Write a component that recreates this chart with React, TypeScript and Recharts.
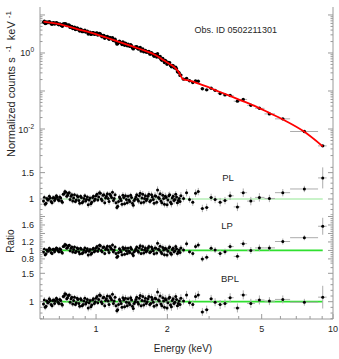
import React from "react";
import {
  ComposedChart,
  Scatter,
  Line,
  XAxis,
  YAxis,
  ErrorBar,
  ReferenceLine,
} from "recharts";

// low-energy bins (dense part of the spectrum), keV
const lowEnergy = [
  0.600, 0.610, 0.620, 0.630, 0.641, 0.652, 0.663, 0.674, 0.686, 0.697,
  0.709, 0.721, 0.733, 0.746, 0.758, 0.771, 0.784, 0.797, 0.811, 0.825,
  0.839, 0.853, 0.867, 0.882, 0.897, 0.912, 0.927, 0.943, 0.959, 0.975,
  0.992, 1.009, 1.026, 1.043, 1.061, 1.079, 1.097, 1.116, 1.135, 1.154,
  1.173, 1.193, 1.214, 1.234, 1.255, 1.276, 1.298, 1.320, 1.343, 1.365,
  1.389, 1.412, 1.436, 1.461, 1.485, 1.511, 1.536, 1.562, 1.589, 1.616,
  1.643, 1.671, 1.700, 1.728, 1.758, 1.788, 1.818, 1.849, 1.880, 1.912,
  1.944, 1.977, 2.011, 2.045, 2.080, 2.115, 2.151, 2.187, 2.224, 2.262,
];
// normalized counts s^-1 keV^-1
const lowCounts = [
  6.43, 5.93, 6.53, 6.31, 6.38, 5.72, 6.22, 5.99, 6.06, 5.53,
  5.65, 5.07, 5.78, 5.76, 5.32, 5.41, 4.94, 4.39, 4.80, 4.23,
  4.37, 3.76, 4.09, 3.67, 3.98, 3.60, 3.15, 3.51, 3.14, 3.40,
  3.15, 3.34, 3.08, 3.17, 2.68, 2.88, 2.63, 2.74, 2.28, 2.46,
  2.53, 2.19, 1.94, 1.74, 2.03, 1.82, 1.94, 1.59, 1.67, 1.71,
  1.49, 1.56, 1.28, 1.41, 1.47, 1.26, 1.39, 1.22, 1.08, 1.17,
  1.05, 1.10, 0.937, 0.964, 0.815, 0.891, 0.951, 0.774, 0.685, 0.713,
  0.560, 0.602, 0.536, 0.555, 0.436, 0.465, 0.404, 0.380, 0.314, 0.257,
];
// data/model below 2.3 keV looks the same for all three models
const lowRatio = [
  0.96, 0.90, 1.01, 0.99, 1.02, 0.93, 1.03, 1.01, 1.04, 0.97,
  1.02, 0.94, 1.10, 1.13, 1.07, 1.12, 1.05, 0.96, 1.08, 0.98,
  1.04, 0.92, 1.03, 0.95, 1.06, 0.99, 0.89, 1.02, 0.94, 1.05,
  1.00, 1.09, 1.04, 1.11, 0.97, 1.08, 1.02, 1.10, 0.95, 1.06,
  1.13, 1.01, 0.93, 0.86, 1.04, 0.97, 1.07, 0.91, 0.99, 1.05,
  0.95, 1.03, 0.88, 1.00, 1.08, 0.96, 1.11, 1.02, 0.94, 1.06,
  1.00, 1.09, 0.97, 1.04, 0.92, 1.05, 1.17, 1.01, 0.96, 1.07,
  0.90, 1.03, 0.98, 1.08, 0.91, 1.05, 0.99, 1.04, 0.97, 0.95,
];
const lowRatioErr = [
  0.05, 0.05, 0.04, 0.05, 0.04, 0.05, 0.04, 0.05, 0.04, 0.05,
  0.04, 0.05, 0.05, 0.04, 0.05, 0.04, 0.05, 0.05, 0.04, 0.05,
  0.04, 0.05, 0.05, 0.04, 0.05, 0.05, 0.06, 0.05, 0.05, 0.04,
  0.05, 0.05, 0.04, 0.05, 0.05, 0.06, 0.05, 0.05, 0.06, 0.05,
  0.05, 0.06, 0.05, 0.06, 0.05, 0.05, 0.06, 0.05, 0.06, 0.05,
  0.06, 0.05, 0.06, 0.06, 0.05, 0.06, 0.06, 0.05, 0.06, 0.06,
  0.05, 0.06, 0.06, 0.06, 0.05, 0.06, 0.07, 0.06, 0.06, 0.07,
  0.06, 0.06, 0.07, 0.06, 0.07, 0.06, 0.07, 0.07, 0.06, 0.07,
];

// the bins that sit between the ones above
const lowEnergyB = [
  0.605, 0.615, 0.625, 0.635, 0.646, 0.657, 0.668, 0.680, 0.691, 0.703,
  0.715, 0.727, 0.739, 0.752, 0.764, 0.777, 0.790, 0.804, 0.818, 0.832,
  0.846, 0.860, 0.874, 0.889, 0.904, 0.919, 0.935, 0.951, 0.967, 0.983,
  1.000, 1.017, 1.034, 1.052, 1.070, 1.088, 1.106, 1.125, 1.144, 1.163,
  1.183, 1.203, 1.224, 1.244, 1.265, 1.287, 1.309, 1.331, 1.354, 1.377,
  1.400, 1.424, 1.448, 1.473, 1.498, 1.523, 1.549, 1.575, 1.602, 1.629,
  1.657, 1.685, 1.714, 1.743, 1.773, 1.803, 1.833, 1.864, 1.896, 1.928,
  1.960, 1.994, 2.028, 2.062, 2.097, 2.133, 2.169, 2.205, 2.243, 2.281,
];
const lowCountsB = [
  6.84, 6.01, 6.29, 6.63, 5.89, 6.21, 5.80, 6.23, 5.70, 5.84,
  5.24, 5.80, 5.89, 5.28, 5.44, 4.71, 5.00, 4.59, 4.16, 4.52,
  4.02, 4.23, 3.64, 3.84, 3.54, 3.73, 3.42, 3.08, 3.39, 3.09,
  3.29, 2.95, 3.26, 2.81, 2.90, 2.44, 2.66, 2.46, 2.57, 2.35,
  2.13, 2.30, 1.72, 1.88, 1.93, 1.66, 1.83, 1.82, 1.54, 1.57,
  1.65, 1.36, 1.39, 1.44, 1.32, 1.36, 1.13, 1.28, 1.13, 1.05,
  1.08, 0.938, 1.02, 0.897, 0.919, 0.781, 0.813, 0.814, 0.642, 0.650,
  0.633, 0.503, 0.562, 0.466, 0.470, 0.412, 0.421, 0.320, 0.299, 0.262,
];
const lowRatioB = [
  1.03, 0.92, 0.98, 1.05, 0.95, 1.02, 0.97, 1.06, 0.99, 1.04,
  0.96, 1.09, 1.14, 1.05, 1.11, 0.99, 1.08, 1.02, 0.95, 1.06,
  0.97, 1.05, 0.93, 1.01, 0.96, 1.04, 0.98, 0.91, 1.03, 0.97,
  1.06, 0.98, 1.12, 1.00, 1.07, 0.93, 1.05, 1.01, 1.09, 1.03,
  0.97, 1.08, 0.84, 0.95, 1.01, 0.90, 1.03, 1.06, 0.93, 0.98,
  1.07, 0.92, 0.97, 1.04, 0.99, 1.06, 0.93, 1.09, 1.01, 0.97,
  1.05, 0.95, 1.08, 0.99, 1.06, 0.94, 1.03, 1.10, 0.93, 1.01,
  1.05, 0.89, 1.06, 0.94, 1.02, 0.97, 1.09, 0.93, 1.01, 1.06,
];
const lowRatioErrB = [
  0.05, 0.04, 0.05, 0.05, 0.04, 0.05, 0.05, 0.04, 0.05, 0.05,
  0.05, 0.04, 0.05, 0.05, 0.04, 0.05, 0.05, 0.05, 0.04, 0.05,
  0.05, 0.04, 0.05, 0.05, 0.05, 0.04, 0.05, 0.06, 0.05, 0.05,
  0.05, 0.04, 0.05, 0.06, 0.05, 0.05, 0.05, 0.06, 0.05, 0.05,
  0.06, 0.05, 0.05, 0.06, 0.05, 0.06, 0.05, 0.06, 0.05, 0.06,
  0.05, 0.06, 0.06, 0.05, 0.06, 0.06, 0.05, 0.06, 0.06, 0.06,
  0.06, 0.05, 0.06, 0.06, 0.07, 0.06, 0.06, 0.07, 0.06, 0.06,
  0.07, 0.06, 0.07, 0.06, 0.07, 0.07, 0.06, 0.07, 0.07, 0.07,
];

// high-energy bins, wider, with visible energy ranges
const highEnergy = [2.34, 2.41, 2.48, 2.56, 2.63, 2.70, 2.81, 2.93, 3.06, 3.18, 3.34, 3.50, 3.68, 3.95, 4.18, 4.50, 4.89, 5.39, 6.14, 7.57, 9.05];
const highLo = [2.30, 2.375, 2.445, 2.52, 2.595, 2.665, 2.755, 2.87, 3.00, 3.12, 3.26, 3.42, 3.59, 3.81, 4.06, 4.34, 4.69, 5.14, 5.69, 6.59, 8.65];
const highHi = [2.375, 2.445, 2.52, 2.595, 2.665, 2.755, 2.87, 3.00, 3.12, 3.26, 3.42, 3.59, 3.81, 4.06, 4.34, 4.69, 5.14, 5.69, 6.59, 8.65, 9.40];
const highCounts = [0.205, 0.215, 0.186, 0.168, 0.185, 0.180, 0.115, 0.107, 0.118, 0.104, 0.086, 0.079, 0.076, 0.054, 0.060, 0.042, 0.035, 0.025, 0.0185, 0.0086, 0.0036];
const highRatioPL = [1.01, 1.12, 0.99, 0.94, 1.11, 1.14, 0.82, 0.84, 1.03, 0.99, 0.94, 0.97, 1.06, 0.85, 1.12, 0.96, 1.03, 1.01, 1.12, 1.19, 1.40];
const highRatioLP = [1.01, 1.16, 0.97, 0.93, 1.09, 1.13, 0.80, 0.84, 1.05, 1.01, 0.93, 0.97, 1.09, 0.86, 1.16, 1.00, 1.06, 1.06, 1.21, 1.30, 1.57];
const highRatioBPL = [1.01, 1.12, 0.98, 0.95, 1.09, 1.12, 0.82, 0.86, 1.05, 0.99, 0.95, 0.97, 1.07, 0.89, 1.12, 0.97, 1.03, 1.01, 1.04, 0.99, 1.08];
const highRatioErr = [0.06, 0.07, 0.06, 0.07, 0.07, 0.07, 0.07, 0.07, 0.07, 0.07, 0.08, 0.07, 0.08, 0.08, 0.08, 0.08, 0.08, 0.07, 0.07, 0.06, 0.20];

// best-fit model (red curve)
const modelEnergy = [0.60, 0.69, 0.84, 1.02, 1.24, 1.50, 1.83, 1.93, 2.07, 2.15, 2.22, 2.27, 2.31, 2.36, 2.45, 2.84, 3.34, 3.92, 4.61, 5.42, 6.17, 7.49, 9.05];
const modelCounts = [6.7, 5.8, 4.2, 3.0, 2.0, 1.33, 0.80, 0.64, 0.49, 0.41, 0.33, 0.26, 0.215, 0.198, 0.190, 0.140, 0.094, 0.063, 0.042, 0.026, 0.0175, 0.0088, 0.0035];

// ticks
const xTicks = [0.6, 0.7, 0.8, 0.9, 1, 2, 3, 4, 5, 6, 7, 8, 9, 10];
const xMajor = [1, 2, 5, 10];
const xLabels = [1, 2, 5, 10];
const yMainTicks = [
  0.002, 0.003, 0.004, 0.005, 0.006, 0.007, 0.008, 0.009,
  0.01, 0.02, 0.03, 0.04, 0.05, 0.06, 0.07, 0.08, 0.09,
  0.1, 0.2, 0.3, 0.4, 0.5, 0.6, 0.7, 0.8, 0.9,
  1, 2, 3, 4, 5, 6, 7, 8, 9, 10,
];
const yMainMajor = [0.01, 0.1, 1, 10];
const yMainLabels = [0.01, 1];
const ratioTicks = [0.7, 0.8, 0.9, 1, 1.1, 1.2, 1.3, 1.4, 1.5, 1.6];
const ratioMajor = [1, 1.5];
const lpTicks = [0.7, 0.75, 0.8, 0.85, 0.9, 0.95, 1, 1.05, 1.1, 1.15, 1.2, 1.25, 1.3, 1.35, 1.4, 1.45, 1.5, 1.55, 1.6, 1.65, 1.7, 1.75, 1.8];
const lpMajor = [0.8, 1, 1.2, 1.4, 1.6, 1.8];
const lpLabels = [0.8, 1, 1.2, 1.6];

const W = 339;
const X_DOMAIN = [0.58, 10];
const MAIN_DOMAIN = [0.00113, 16.2];
const FRAME = "#9a9a9a";
const INK = "#262626";
const ERR = "#acacac";
const FONT = "'Liberation Sans', Arial, sans-serif";

const lowRows = (energy: number[], counts: number[], ratio: number[], err: number[]) =>
  energy.map((e, i) => ({
    e,
    c: counts[i],
    pl: ratio[i],
    lp: ratio[i],
    bpl: ratio[i],
    re: err[i],
  }));

const rows = [
  ...lowRows(lowEnergy, lowCounts, lowRatio, lowRatioErr),
  ...lowRows(lowEnergyB, lowCountsB, lowRatioB, lowRatioErrB),
  ...highEnergy.map((e, i) => ({
    e,
    c: highCounts[i],
    pl: highRatioPL[i],
    lp: highRatioLP[i],
    bpl: highRatioBPL[i],
    re: highRatioErr[i],
    xe: [e - highLo[i], highHi[i] - e],
  })),
];
const modelRows = modelEnergy.map((e, i) => ({ e, c: modelCounts[i] }));

const XTick = (p: any) => {
  const { x, y, payload, dir, labels } = p;
  const v = payload.value;
  const len = xMajor.includes(v) ? 5 : 3;
  return (
    <g>
      <line x1={x} x2={x} y1={y} y2={y + dir * len} stroke={FRAME} />
      {labels && xLabels.includes(v) && (
        <text x={x} y={y + 12.5} textAnchor="middle" fontSize={9} fill={INK} fontFamily={FONT}>
          {v}
        </text>
      )}
    </g>
  );
};

const YTick = (p: any) => {
  const { x, y, payload, dir, majors, labels, sup } = p;
  const v = payload.value;
  const len = majors.includes(v) ? 5 : 2.5;
  let label = null;
  if (labels && labels.includes(v)) {
    label = sup ? (
      <text x={x - 6} y={y + 3.5} textAnchor="end" fontSize={9} fill={INK} fontFamily={FONT}>
        10
        <tspan dy={-4} fontSize={6.5}>
          {String(Math.round(Math.log10(v)))}
        </tspan>
      </text>
    ) : (
      <text x={x - 6} y={y + 3.2} textAnchor="end" fontSize={9} fill={INK} fontFamily={FONT}>
        {v}
      </text>
    );
  }
  return (
    <g>
      <line x1={x} x2={x + dir * len} y1={y} y2={y} stroke={FRAME} />
      {label}
    </g>
  );
};

const frameAxes = (o: any) => [
  <XAxis
    key="xb"
    xAxisId="b"
    type="number"
    dataKey="e"
    scale="log"
    domain={X_DOMAIN}
    allowDataOverflow
    ticks={xTicks}
    interval={0}
    height={o.xHeight || 0}
    tickSize={0}
    tickMargin={0}
    tickLine={false}
    axisLine={{ stroke: FRAME }}
    tick={(t: any) => <XTick {...t} dir={-1} labels={o.xLabels} />}
  />,
  <XAxis
    key="xt"
    xAxisId="t"
    orientation="top"
    type="number"
    dataKey="e"
    scale="log"
    domain={X_DOMAIN}
    allowDataOverflow
    ticks={xTicks}
    interval={0}
    height={0}
    tickSize={0}
    tickMargin={0}
    tickLine={false}
    axisLine={{ stroke: FRAME }}
    tick={(t: any) => <XTick {...t} dir={1} />}
  />,
  <YAxis
    key="yl"
    yAxisId="l"
    type="number"
    dataKey={o.key}
    scale={o.scale}
    domain={o.domain}
    allowDataOverflow
    ticks={o.ticks}
    interval={0}
    width={40}
    tickSize={0}
    tickMargin={0}
    tickLine={false}
    axisLine={{ stroke: FRAME }}
    tick={(t: any) => (
      <YTick {...t} dir={1} majors={o.majors} labels={o.labels} sup={o.sup} />
    )}
  />,
  <YAxis
    key="yr"
    yAxisId="r"
    orientation="right"
    type="number"
    dataKey={o.key}
    scale={o.scale}
    domain={o.domain}
    allowDataOverflow
    ticks={o.ticks}
    interval={0}
    width={6}
    tickSize={0}
    tickMargin={0}
    tickLine={false}
    axisLine={{ stroke: FRAME }}
    tick={(t: any) => <YTick {...t} dir={-1} majors={o.majors} />}
  />,
];

const dot = (r: number) => (p: any) => <circle cx={p.cx} cy={p.cy} r={r} fill="#000" />;

const ratioPanel = (o: any) => (
  <div style={{ position: "absolute", left: 0, top: o.top }}>
    <ComposedChart width={W} height={o.height} margin={{ top: 0, right: 0, bottom: 0, left: 0 }}>
      {frameAxes(o)}
      <ReferenceLine
        xAxisId="b"
        yAxisId="l"
        segment={[
          { x: lowEnergy[0], y: 1 },
          { x: highEnergy[highEnergy.length - 1], y: 1 },
        ]}
        stroke={o.lineColor}
        strokeWidth={o.lineWidth}
      />
      <Scatter
        xAxisId="b"
        yAxisId="l"
        data={rows}
        dataKey={o.key}
        shape={dot(1.5)}
        isAnimationActive={false}
      >
        <ErrorBar dataKey="re" direction="y" width={0} stroke={ERR} strokeWidth={1} />
        <ErrorBar dataKey="xe" direction="x" width={0} stroke={ERR} strokeWidth={1} />
      </Scatter>
    </ComposedChart>
  </div>
);

export default function App() {
  return (
    <div
      style={{
        position: "absolute",
        left: 0,
        top: 0,
        width: W,
        height: 359,
        background: "#fff",
        fontFamily: FONT,
      }}
    >
      <div style={{ position: "absolute", left: 0, top: 0 }}>
        <ComposedChart width={W} height={165} margin={{ top: 7, right: 0, bottom: 0, left: 0 }}>
          {frameAxes({
            key: "c",
            scale: "log",
            domain: MAIN_DOMAIN,
            ticks: yMainTicks,
            majors: yMainMajor,
            labels: yMainLabels,
            sup: true,
          })}
          <Scatter
            xAxisId="b"
            yAxisId="l"
            data={rows}
            dataKey="c"
            shape={dot(1.7)}
            isAnimationActive={false}
          >
            <ErrorBar dataKey="xe" direction="x" width={0} stroke={ERR} strokeWidth={1} />
          </Scatter>
        </ComposedChart>
      </div>

      {/* model curve on its own layer so it sits over the data points */}
      <div style={{ position: "absolute", left: 0, top: 0 }}>
        <ComposedChart width={W} height={165} margin={{ top: 7, right: 6, bottom: 0, left: 40 }}>
          <XAxis
            xAxisId="b"
            type="number"
            dataKey="e"
            scale="log"
            domain={X_DOMAIN}
            allowDataOverflow
            hide
          />
          <YAxis
            yAxisId="l"
            type="number"
            dataKey="c"
            scale="log"
            domain={MAIN_DOMAIN}
            allowDataOverflow
            hide
          />
          <Line
            xAxisId="b"
            yAxisId="l"
            data={modelRows}
            dataKey="c"
            type="monotone"
            stroke="#ff0000"
            strokeWidth={1.8}
            dot={false}
            isAnimationActive={false}
          />
        </ComposedChart>
      </div>

      {ratioPanel({
        top: 165,
        height: 50,
        key: "pl",
        scale: "linear",
        domain: [0.696, 1.645],
        ticks: ratioTicks,
        majors: ratioMajor,
        labels: ratioMajor,
        lineColor: "#93e893",
        lineWidth: 1.2,
      })}
      {ratioPanel({
        top: 215,
        height: 49,
        key: "lp",
        scale: "linear",
        domain: [0.68, 1.835],
        ticks: lpTicks,
        majors: lpMajor,
        labels: lpLabels,
        lineColor: "#2fe02f",
        lineWidth: 1.8,
      })}
      {ratioPanel({
        top: 264,
        height: 95,
        xHeight: 40,
        xLabels: true,
        key: "bpl",
        scale: "linear",
        domain: [0.695, 1.664],
        ticks: ratioTicks,
        majors: ratioMajor,
        labels: ratioMajor,
        lineColor: "#2fe02f",
        lineWidth: 1.8,
      })}

      <svg
        width={W}
        height={359}
        style={{ position: "absolute", left: 0, top: 0, pointerEvents: "none" }}
        fontFamily={FONT}
        fill={INK}
      >
        <text transform="rotate(-90 15 157)" x={15} y={157} fontSize={11}>
          Normalized counts s
          <tspan dx={5} dy={-4} fontSize={8}>
            -1
          </tspan>
          <tspan dx={5} dy={4}>
            keV
          </tspan>
          <tspan dx={3} dy={-4} fontSize={8}>
            -1
          </tspan>
        </text>
        <text transform="rotate(-90 14 241)" x={14} y={241} fontSize={10} textAnchor="middle">
          Ratio
        </text>
        <text x={183} y={352} fontSize={10} textAnchor="middle">
          Energy (keV)
        </text>
        <text x={194.5} y={33.3} fontSize={9}>
          Obs. ID 0502211301
        </text>
        <text x={228} y={181} fontSize={9.5} textAnchor="middle">
          PL
        </text>
        <text x={227} y={229} fontSize={9.5} textAnchor="middle">
          LP
        </text>
        <text x={230} y={281.5} fontSize={9.5} textAnchor="middle">
          BPL
        </text>
      </svg>
    </div>
  );
}
